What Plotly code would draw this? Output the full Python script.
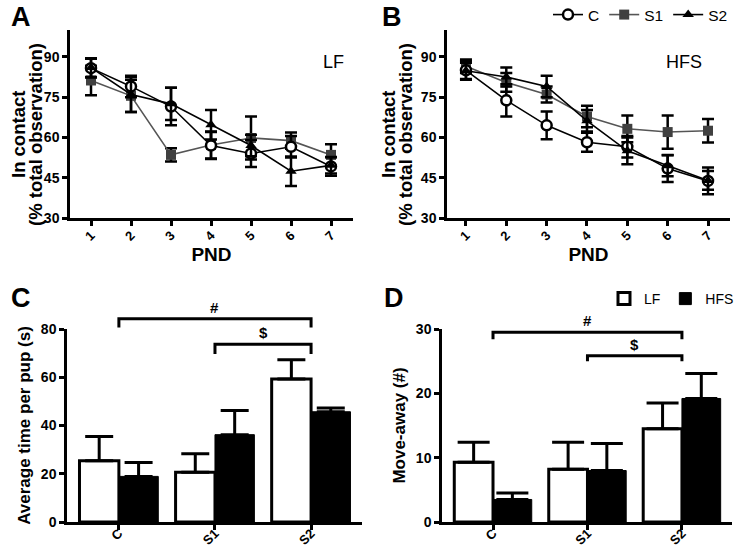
import plotly.graph_objects as go

# ---------------- data ----------------
pnd = [1, 2, 3, 4, 5, 6, 7]

lf_c = [85.8, 79.0, 71.5, 57.0, 54.0, 56.5, 49.2]
lf_c_err = [3.5, 4.0, 7.0, 5.0, 5.0, 4.0, 3.5]
lf_s1 = [81.2, 75.5, 53.5, 57.2, 59.8, 58.8, 53.5]
lf_s1_err = [5.5, 6.0, 2.5, 5.0, 8.0, 3.0, 4.0]
lf_s2 = [86.0, 76.0, 72.5, 64.7, 57.0, 47.4, 49.6]
lf_s2_err = [3.5, 6.5, 6.0, 5.5, 4.0, 5.5, 3.0]

hfs_c = [85.0, 73.8, 64.5, 58.2, 56.5, 48.4, 43.8]
hfs_c_err = [3.5, 6.0, 5.2, 3.5, 4.0, 5.0, 5.0]
hfs_s1 = [86.5, 80.5, 76.0, 67.8, 63.2, 62.0, 62.5]
hfs_s1_err = [2.5, 3.5, 3.0, 4.0, 5.0, 6.2, 4.4]
hfs_s2 = [84.8, 82.5, 79.0, 66.2, 55.0, 49.5, 44.0]
hfs_s2_err = [3.0, 3.5, 4.0, 4.0, 5.0, 4.0, 3.5]

groups = ["C", "S1", "S2"]
gx = [0, 1, 2]
time_lf = [25.4, 20.6, 59.3]
time_lf_err = [10.0, 7.7, 8.0]
time_hfs = [18.9, 36.2, 45.7]
time_hfs_err = [5.8, 10.0, 1.6]

move_lf = [9.3, 8.2, 14.5]
move_lf_err = [3.1, 4.2, 4.0]
move_hfs = [3.5, 8.0, 19.2]
move_hfs_err = [1.0, 4.2, 3.9]

# significance brackets: (x_from, x_to, y_level, y_leg_end, label)
sig_time = [(0, 2, 84.2, 80.6, "#"), (1, 2, 73.7, 69.6, "$")]
sig_move = [(0, 2, 29.5, 28.4, "#"), (1, 2, 25.85, 25.0, "$")]

y_ticks_contact = [30, 45, 60, 75, 90]
y_ticks_time = [0, 20, 40, 60, 80]
y_ticks_move = [0, 10, 20, 30]

contact_title = ["In contact", "(% total observation)"]

# ---------------- layout geometry ----------------
W, H = 739, 548
def px2x(p): return p / W
def py2y(p): return 1 - p / H

domA_x = [px2x(70), px2x(353)]
domB_x = [px2x(447), px2x(730)]
domTop_y = [py2y(218), py2y(30)]
domC_x = [px2x(67), px2x(362)]
domD_x = [px2x(442), px2x(732)]
domBot_y = [py2y(522), py2y(329)]

rngA_x = [0.475, 7.55]
rngB_x = [0.53, 7.545]
rng_contact = [30, 100]
rngC_x = [-0.54, 2.53]
rngD_x = [-0.54, 2.53]
rng_time = [0, 80]
rng_move = [0, 30]

FONT = "Liberation Sans, Arial, sans-serif"
fig = go.Figure()

def line_traces(xa, ya, c, ce, s1, s1e, s2, s2e, show):
    eb = lambda e: dict(type="data", array=e, visible=True, color="black", thickness=2.5, width=6)
    fig.add_trace(go.Scatter(x=pnd, y=s1, error_y=eb(s1e), mode="lines+markers", name="S1",
                             line=dict(color="#555555", width=1.6),
                             marker=dict(symbol="square", size=10, color="#404040"),
                             xaxis=xa, yaxis=ya, showlegend=show, legendrank=2))
    fig.add_trace(go.Scatter(x=pnd, y=c, error_y=eb(ce), mode="lines+markers", name="C",
                             line=dict(color="black", width=1.6),
                             marker=dict(symbol="circle", size=10, color="white",
                                         line=dict(color="black", width=2.5)),
                             xaxis=xa, yaxis=ya, showlegend=show, legendrank=1))
    fig.add_trace(go.Scatter(x=pnd, y=s2, error_y=eb(s2e), mode="lines+markers", name="S2",
                             line=dict(color="black", width=1.6),
                             marker=dict(symbol="triangle-up", size=10, color="black"),
                             xaxis=xa, yaxis=ya, showlegend=show, legendrank=3))

line_traces("x", "y", lf_c, lf_c_err, lf_s1, lf_s1_err, lf_s2, lf_s2_err, True)
line_traces("x2", "y2", hfs_c, hfs_c_err, hfs_s1, hfs_s1_err, hfs_s2, hfs_s2_err, False)

def bar_traces(xa, ya, lf, lfe, hf, hfe, capw, show):
    fig.add_trace(go.Bar(x=gx, y=lf, width=0.41, offset=-0.41, name="LF",
                         marker=dict(color="white", line=dict(color="black", width=3)),
                         error_y=dict(type="data", array=lfe, arrayminus=[0] * len(lfe), symmetric=False,
                                      color="black", thickness=3, width=capw),
                         xaxis=xa, yaxis=ya, showlegend=show, legend="legend2"))
    fig.add_trace(go.Bar(x=gx, y=hf, width=0.41, offset=0, name="HFS",
                         marker=dict(color="black", line=dict(color="black", width=1)),
                         error_y=dict(type="data", array=hfe, arrayminus=[0] * len(hfe), symmetric=False,
                                      color="black", thickness=3, width=capw),
                         xaxis=xa, yaxis=ya, showlegend=show, legend="legend2"))

bar_traces("x3", "y3", time_lf, time_lf_err, time_hfs, time_hfs_err, 14, False)
bar_traces("x4", "y4", move_lf, move_lf_err, move_hfs, move_hfs_err, 16, True)

def ypaper(v, dom, rng):
    return dom[0] + (v - rng[0]) / (rng[1] - rng[0]) * (dom[1] - dom[0])

shapes = []
annotations = []
for xa, sigs, rng in (("x3", sig_time, rng_time), ("x4", sig_move, rng_move)):
    for x0, x1, yl, ye, lab in sigs:
        y_l = ypaper(yl, domBot_y, rng)
        y_e = ypaper(ye, domBot_y, rng)
        shapes.append(dict(type="path", xref=xa, yref="paper",
                           path=f"M {x0},{y_e} L {x0},{y_l} L {x1},{y_l} L {x1},{y_e}",
                           line=dict(color="black", width=3)))
        annotations.append(dict(x=(x0 + x1) / 2, y=y_l, xref=xa, yref="paper", text=lab,
                                showarrow=False, yanchor="bottom", yshift=1,
                                font=dict(size=15, family=FONT, color="black", weight="bold")))

def letter(t, x, y):
    annotations.append(dict(text=t, x=x, y=y, xref="paper", yref="paper", xanchor="left", yanchor="top",
                            showarrow=False, font=dict(size=27, family=FONT, color="black", weight="bold")))
letter("A", px2x(9), py2y(0))
letter("B", px2x(380), py2y(0))
letter("C", px2x(9), py2y(281))
letter("D", px2x(382), py2y(281))

# two-line y titles of the line panels (tight line spacing as in the figure)
for (x1, x2) in ((18, 35), (388, 405)):
    for xp, txt in zip((x1, x2), contact_title):
        annotations.append(dict(text=txt, x=px2x(xp), y=py2y(135), xref="paper", yref="paper",
                                textangle=-90, showarrow=False, xanchor="center", yanchor="middle",
                                font=dict(size=18.5, family=FONT, color="black", weight="bold")))

annotations.append(dict(text="LF", x=px2x(333), y=py2y(50), xref="paper", yref="paper",
                        showarrow=False, font=dict(size=18, family=FONT, color="black")))
annotations.append(dict(text="HFS", x=px2x(704), y=py2y(50), xref="paper", yref="paper",
                        showarrow=False, font=dict(size=18, family=FONT, color="black")))

tickfont = dict(size=14, family=FONT, color="black", weight="bold")
xtickfont = dict(size=13, family=FONT, color="black", weight="bold")
titlefont = dict(size=19, family=FONT, color="black", weight="bold")
titlefont2 = dict(size=17, family=FONT, color="black", weight="bold")
axcommon = dict(showline=True, linecolor="black", linewidth=2.5, ticks="outside", ticklen=5,
                tickwidth=2.5, tickcolor="black", showgrid=False, zeroline=False, fixedrange=True)

fig.update_layout(
    width=W, height=H, margin=dict(l=0, r=0, t=0, b=0, autoexpand=False),
    paper_bgcolor="white", plot_bgcolor="white", barmode="overlay",
    font=dict(family=FONT, color="black"),
    xaxis=dict(domain=domA_x, range=rngA_x, tickvals=pnd, tickangle=-45, tickfont=xtickfont,
               ticklabelstandoff=-3,
               title=dict(text="PND", font=titlefont, standoff=2), anchor="y", **axcommon),
    yaxis=dict(domain=domTop_y, range=rng_contact, tickvals=y_ticks_contact, tickfont=tickfont,
               anchor="x", **axcommon),
    xaxis2=dict(domain=domB_x, range=rngB_x, tickvals=pnd, tickangle=-45, tickfont=xtickfont,
                ticklabelstandoff=-3,
                title=dict(text="PND", font=titlefont, standoff=2), anchor="y2", **axcommon),
    yaxis2=dict(domain=domTop_y, range=rng_contact, tickvals=y_ticks_contact, tickfont=tickfont,
                anchor="x2", **axcommon),
    xaxis3=dict(domain=domC_x, range=rngC_x, tickvals=gx, ticktext=groups, tickangle=-45,
                ticklabelstandoff=-9, tickfont=xtickfont, anchor="y3", **axcommon),
    yaxis3=dict(domain=domBot_y, range=rng_time, tickvals=y_ticks_time, tickfont=tickfont,
                title=dict(text="Average time per pup (s)", font=titlefont2, standoff=6),
                anchor="x3", **axcommon),
    xaxis4=dict(domain=domD_x, range=rngD_x, tickvals=gx, ticktext=groups, tickangle=-45,
                ticklabelstandoff=-9, tickfont=xtickfont, anchor="y4", **axcommon),
    yaxis4=dict(domain=domBot_y, range=rng_move, tickvals=y_ticks_move, tickfont=tickfont,
                title=dict(text="Move-away (#)", font=titlefont2, standoff=6),
                anchor="x4", **axcommon),
    legend=dict(orientation="h", x=px2x(733), xanchor="right", y=py2y(15), yanchor="middle",
                font=dict(size=15.5, family=FONT, color="black"), bgcolor="rgba(0,0,0,0)",
                traceorder="normal", itemwidth=30, tracegroupgap=0),
    legend2=dict(orientation="h", x=1.0, xanchor="right", y=py2y(299), yanchor="middle",
                 font=dict(size=14, family=FONT, color="black"), bgcolor="rgba(0,0,0,0)",
                 traceorder="normal"),
    shapes=shapes, annotations=annotations,
)

fig.write_html("out.html", config={"displayModeBar": False},
               post_script="document.body.style.margin='0px';")
